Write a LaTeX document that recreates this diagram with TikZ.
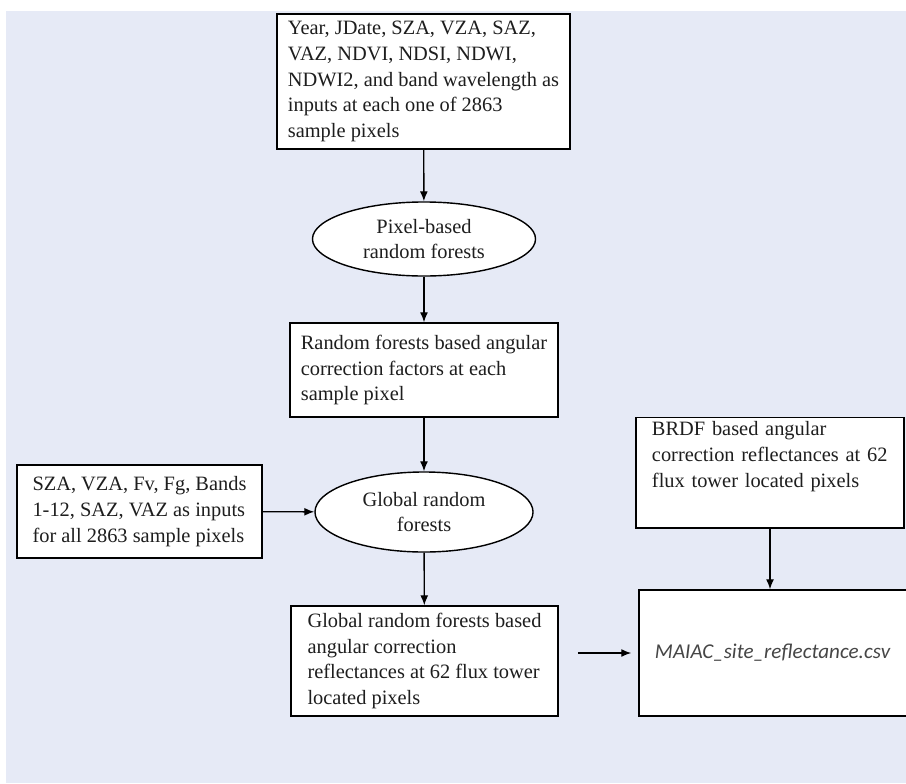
\documentclass[tikz,border=0pt]{standalone}
\usepackage{fontspec}
\setmainfont{Liberation Serif}
\newfontfamily\csvfont{Carlito}
\usetikzlibrary{shapes.geometric, arrows.meta}
\definecolor{pagebg}{RGB}{230,234,246}
\definecolor{csvgray}{RGB}{70,70,70}
\definecolor{inkgray}{RGB}{30,30,30}

\begin{document}
\begin{tikzpicture}[
        x=0.025cm, y=-0.025cm, >={Latex[length=0.25cm, width=0.2cm]},
        font=\fontsize{14.5}{18.3}\selectfont, text=inkgray,
        myell/.style={draw, ellipse, fill=white, line width=1pt, inner sep=0pt, align=center}
        ]
    % Define styles
    \tikzstyle{box} = [draw, rectangle, fill=white, line width=1pt, align=left, inner xsep=0.2cm]

    % Background
    \useasboundingbox (0,0) rectangle (906,783);
    \fill[pagebg] (6,11) rectangle (906,783);

    % Define box nodes
    \node[box, minimum width=7.325cm, minimum height=3.375cm] (inputs) at (423.5, 81.5)
        {Year, JDate, SZA, VZA, SAZ,\\ VAZ, NDVI, NDSI, NDWI,\\ NDWI2, and band wavelength as\\ inputs at each one of 2863\\ sample pixels};
    \node[box, minimum width=6.7cm, minimum height=2.35cm] (factors) at (424, 370)
        {Random forests based angular\\ correction factors at each\\ sample pixel};
    \node[box, minimum width=6.125cm, minimum height=2.325cm] (glinputs) at (139.5, 511.5)
        {SZA, VZA, Fv, Fg, Bands\\ 1-12, SAZ, VAZ as inputs\\ for all 2863 sample pixels};
    \node[box, minimum width=6.675cm, minimum height=2.75cm] (glrefl) at (424.5, 661)
        {Global random forests based\\ angular correction\\ reflectances at 62 flux tower\\ located pixels};
    \node[box, text width=5.9cm, inner xsep=0.4cm, inner ysep=0.1cm, text depth=2.2cm, anchor=north] (brdf) at (770, 417)
        {BRDF based angular\\ correction reflectances at 62\\ flux tower located pixels};
    \node[box, text width=6.225cm, inner xsep=0.4cm, minimum height=3.15cm, font=\csvfont\itshape\fontsize{15}{18}\selectfont, text=csvgray] (csv) at (779.5, 653)
        {MAIAC\_site\_reflectance.csv};

    % Define ellipse nodes
    \node[myell, minimum width=5.575cm, minimum height=1.85cm] (pixrf) at (424, 239)
        {Pixel-based\\ random forests};
    \node[myell, minimum width=5.45cm, minimum height=2cm] (glrf) at (424, 512)
        {Global random\\ forests};

    % Draw edges down the main column
    \draw[->, line width=1pt] (inputs) -- (pixrf);
    \draw[->, line width=1pt] (pixrf) -- (factors);
    \draw[->, line width=1pt] (factors) -- (glrf);
    \draw[->, line width=1pt] (glrf) -- (glrefl);

    % Draw edges into the global forests and the output file
    \draw[->, line width=1pt] (glinputs) -- (glrf);
    \draw[->, line width=1pt] (brdf.south) -- (brdf.south |- csv.north);
    \draw[->, line width=1pt, shorten <=0.475cm, shorten >=0.175cm] (glrefl.east |- csv.west) -- (csv.west);

\end{tikzpicture}
\end{document}
